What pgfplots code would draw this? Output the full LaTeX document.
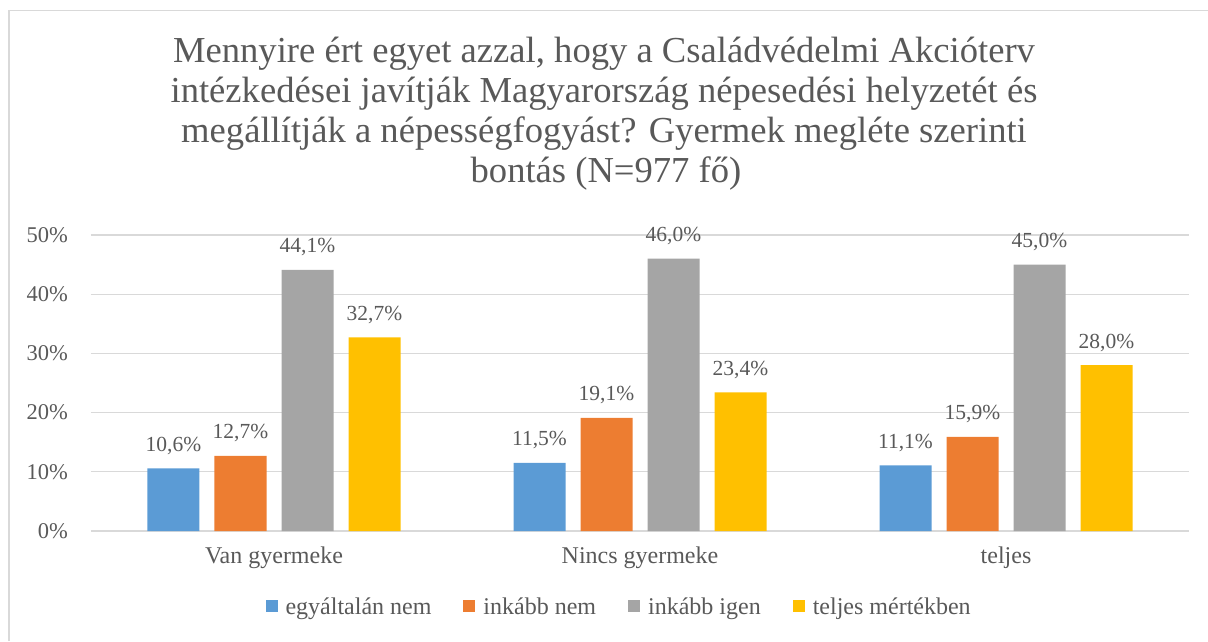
\documentclass[border=0pt]{standalone}
\usepackage{fontspec}
\setmainfont{Liberation Serif}
\usepackage{pgfplots}
\pgfplotsset{compat=1.18}
\definecolor{txt}{HTML}{595959}
\definecolor{gridc}{HTML}{D9D9D9}
\definecolor{c1}{HTML}{5B9BD5}
\definecolor{c2}{HTML}{ED7D31}
\definecolor{c3}{HTML}{A5A5A5}
\definecolor{c4}{HTML}{FFC000}
\begin{document}
\begin{tikzpicture}[x=1pt,y=1pt]
\useasboundingbox (0,0) rectangle (1208,641);
\draw[gridc, line width=1.5pt] (9,0) -- (9,630.5) -- (1208,630.5);
\begin{scope}[every node/.style={anchor=base, text=txt, font=\fontsize{36.6}{40}\selectfont, inner sep=0pt}]
\node at (604,578) {Mennyire ért egyet azzal, hogy a Családvédelmi Akcióterv};
\node at (604,538) {intézkedései javítják Magyarország népesedési helyzetét és};
\node at (604,498) {megállítják a népességfogyást? Gyermek megléte szerinti};
\node at (606,458) {bontás (N=977 fő)};
\end{scope}
\begin{axis}[
  at={(91pt,110pt)}, anchor=south west, scale only axis,
  width=1098pt, height=296pt,
  xmin=-0.5, xmax=2.5, ymin=0, ymax=50,
  ybar=15pt, bar width=52pt,
  /pgf/number format/assume math mode=true,
  xtick={0,1,2}, xticklabels={Van gyermeke, Nincs gyermeke, teljes},
  ytick={0,10,20,30,40,50},
  yticklabel={\pgfmathprintnumber{\tick}\%},
  major tick length=0pt,
  axis line style={draw=none},
  ymajorgrids, grid style={gridc, line width=1.3pt},
  yticklabel style={anchor=east, inner sep=0pt, xshift=-23pt, text=txt, font=\fontsize{22.5}{24}\selectfont},
  xticklabel style={anchor=north, inner sep=0pt, yshift=-16pt, text=txt, font=\fontsize{24}{26}\selectfont},
  nodes near coords={\pgfmathprintnumber[fixed,fixed zerofill,precision=1,use comma,assume math mode=true]{\pgfplotspointmeta}\%},
  every node near coord/.append style={anchor=base, inner sep=0pt, yshift=17pt, text=txt, font=\fontsize{21.5}{23}\selectfont},
  legend columns=-1,
  legend style={draw=none, fill=none, at={(0.481,-0.257)}, anchor=center, text=txt,
    font=\fontsize{24}{26}\selectfont,
    /tikz/every odd column/.append style={column sep=6pt},
    /tikz/every even column/.append style={column sep=30pt}},
  legend image code/.code={\fill[#1] (0pt,-5pt) rectangle (12pt,7pt);},
]
\addplot[fill=c1, draw=none] coordinates {(0,10.6) (1,11.5) (2,11.1)};
\addplot[fill=c2, draw=none] coordinates {(0,12.7) (1,19.1) (2,15.9)};
\addplot[fill=c3, draw=none] coordinates {(0,44.1) (1,46.0) (2,45.0)};
\addplot[fill=c4, draw=none] coordinates {(0,32.7) (1,23.4) (2,28.0)};
\legend{egyáltalán nem, inkább nem, inkább igen, teljes mértékben}
\end{axis}
\end{tikzpicture}
\end{document}
